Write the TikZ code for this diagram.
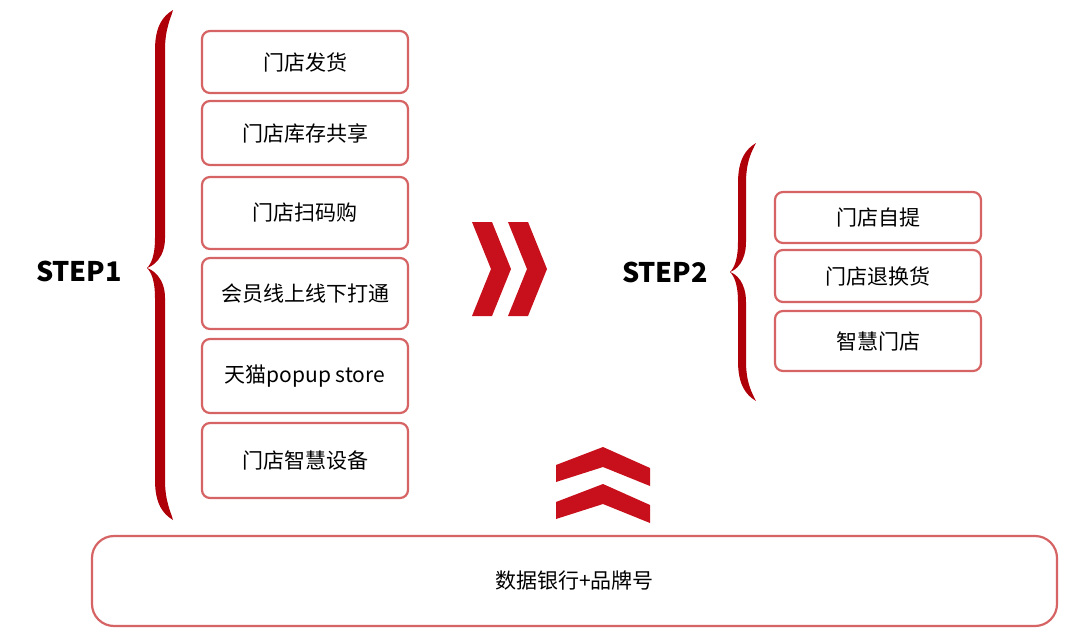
\documentclass[tikz,border=0pt]{standalone}
\usepackage{fontspec}
\setmainfont{Noto Sans CJK SC}
\definecolor{boxred}{RGB}{214,100,100}
\definecolor{bracered}{RGB}{175,0,10}
\definecolor{arrowred}{RGB}{200,16,28}
% brace: tip x, top y, tip y, bottom y, thickness
\newcommand{\redbrace}[5]{%
  \fill[bracered] ({#1+26},#2) .. controls ({#1+16},{#2+6}) and ({#1+8},{#2+16}) .. ({#1+8},{#2+40})
    -- ({#1+8},{#3-30}) .. controls ({#1+8},{#3-12}) and ({#1+4},{#3-4}) .. (#1,#3)
    .. controls ({#1+4},{#3+4}) and ({#1+8},{#3+12}) .. ({#1+8},{#3+30})
    -- ({#1+8},{#4-40}) .. controls ({#1+8},{#4-16}) and ({#1+16},{#4-6}) .. ({#1+26},#4)
    .. controls ({#1+14+#5},{#4-8}) and ({#1+8+#5},{#4-18}) .. ({#1+8+#5},{#4-40})
    -- ({#1+8+#5},{#3+30}) .. controls ({#1+8+#5},{#3+10}) and ({#1+6},{#3+2}) .. (#1,#3)
    .. controls ({#1+6},{#3-2}) and ({#1+8+#5},{#3-10}) .. ({#1+8+#5},{#3-30})
    -- ({#1+8+#5},{#2+40}) .. controls ({#1+8+#5},{#2+18}) and ({#1+14+#5},{#2+8}) .. ({#1+26},#2) -- cycle;}
\begin{document}
\begin{tikzpicture}[x=1pt, y=-1pt,
    item/.style={draw=boxred, line width=2.2pt, rounded corners=8pt, fill=white,
      minimum width=206pt, inner sep=0pt, font=\fontsize{21}{25}\selectfont},
    steplabel/.style={font=\fontsize{27}{30}\selectfont\bfseries}]
  \useasboundingbox[fill=white] (0,0) rectangle (1080,640);
  % step 1
  \node[steplabel] (st1) at (79,271) {STEP1};
  \redbrace{147}{10}{268}{520}{10}
  \node[item, minimum height=62pt] (a1) at (305,62) {门店发货};
  \node[item, minimum height=64pt] (a2) at (305,133) {门店库存共享};
  \node[item, minimum height=72pt] (a3) at (305,213) {门店扫码购};
  \node[item, minimum height=71pt] (a4) at (305,293.5) {会员线上线下打通};
  \node[item, minimum height=74pt] (a5) at (305,376) {天猫popup store};
  \node[item, minimum height=75pt] (a6) at (305,460.5) {门店智慧设备};
  % arrows
  \foreach \d in {0,36}
    \fill[arrowred] ({472+\d},222) -- ({492+\d},222) -- ({511+\d},269) -- ({492+\d},316)
      -- ({472+\d},316) -- ({491+\d},269) -- cycle;
  \foreach \d in {0,37}
    \fill[arrowred] (603,{447+\d}) -- (650,{468+\d}) -- (650,{486+\d}) -- (603,{467+\d})
      -- (556,{482+\d}) -- (556,{465+\d}) -- cycle;
  % step 2
  \node[steplabel] (st2) at (665,272) {STEP2};
  \redbrace{730}{143}{272}{401}{8}
  \node[item, minimum height=51pt] (b1) at (878,217.5) {门店自提};
  \node[item, minimum height=52pt] (b2) at (878,276) {门店退换货};
  \node[item, minimum height=60pt] (b3) at (878,341) {智慧门店};
  % base
  \node[item, minimum width=965pt, minimum height=90pt, rounded corners=22pt] (base) at (574.5,581) {数据银行+品牌号};
\end{tikzpicture}
\end{document}
